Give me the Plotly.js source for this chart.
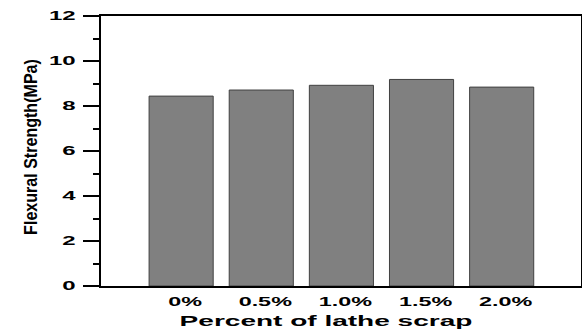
<!DOCTYPE html>
<html>
<head>
<meta charset="utf-8">
<script src="https://cdn.plot.ly/plotly-3.0.1.min.js"></script>
<style>
  html, body { margin: 0; padding: 0; background: #fff; }
  #chart { width: 582px; height: 334px; }
</style>
</head>
<body>
<div id="chart"></div>
<script>
// Flexural strength for each dosage of lathe scrap
const categories = ['0%', '0.5%', '1.0%', '1.5%', '2.0%'];
const strength = [8.44, 8.71, 8.92, 9.18, 8.84];
const yTicks = [0, 2, 4, 6, 8, 10, 12];

const labelFont = 'Liberation Sans, Arial, sans-serif';

const trace = {
  type: 'bar',
  x: categories.map((_, i) => i),
  y: strength,
  marker: { color: '#808080', line: { color: '#404040', width: 1 } },
  hoverinfo: 'x+y'
};

const layout = {
  width: 582,
  height: 334,
  margin: { l: 101, r: 1, t: 16, b: 48 },
  paper_bgcolor: '#fff',
  plot_bgcolor: '#fff',
  bargap: 0.2,
  showlegend: false,
  xaxis: {
    range: [-1, 4.99],
    tickmode: 'array',
    tickvals: categories.map((_, i) => i),
    ticktext: categories,
    ticks: '',
    ticklabelstandoff: 4,
    showgrid: false,
    zeroline: false,
    showline: true,
    mirror: true,
    linecolor: '#000',
    linewidth: 2,
    tickfont: { family: labelFont, size: 12, color: '#000', weight: 'bold' },
    title: {
      text: 'Percent of lathe scrap',
      font: { family: labelFont, size: 15, color: '#000', weight: 'bold' },
      standoff: 7
    }
  },
  yaxis: {
    range: [0, 12],
    tickmode: 'array',
    tickvals: yTicks,
    ticks: 'outside',
    ticklen: 16,
    tickwidth: 2,
    tickcolor: '#000',
    ticklabelstandoff: 5,
    minor: { dtick: 1, ticks: 'outside', ticklen: 6, tickwidth: 2, tickcolor: '#000', showgrid: false },
    showgrid: false,
    zeroline: false,
    showline: true,
    mirror: true,
    linecolor: '#000',
    linewidth: 2,
    tickfont: { family: labelFont, size: 12, color: '#000', weight: 'bold' },
    title: {
      text: 'Flexural Strength(MPa)',
      font: { family: labelFont, size: 19, color: '#000', weight: 'bold' },
      standoff: 20
    }
  }
};

// Horizontally stretch or condense a text element about its own anchor point.
function stretchText(t, sx, dx) {
  const x = +t.getAttribute('x') || 0;
  const y = +t.getAttribute('y') || 0;
  let base = t.getAttribute('data-base-transform');
  if (base === null) {
    base = t.getAttribute('transform') || '';
    t.setAttribute('data-base-transform', base);
  }
  t.setAttribute('transform',
    `${base} translate(${x + (dx || 0)},${y}) scale(${sx},1) translate(${-x},${-y})`);
}

// Wide display lettering for tick labels and the category title,
// condensed lettering for the value title.
function applyLettering(gd) {
  gd.querySelectorAll('.xtick text').forEach(t => stretchText(t, 1.95, 4));
  gd.querySelectorAll('.ytick text').forEach(t => stretchText(t, 2.0, 0));
  const xt = gd.querySelector('.xtitle');
  if (xt) stretchText(xt, 293 / xt.getComputedTextLength(), -15);
  const yt = gd.querySelector('.ytitle');
  if (yt) stretchText(yt, 176 / yt.getComputedTextLength(), 4);
}

Plotly.newPlot('chart', [trace], layout, { displayModeBar: false, staticPlot: true })
  .then(gd => applyLettering(gd));
</script>
</body>
</html>
